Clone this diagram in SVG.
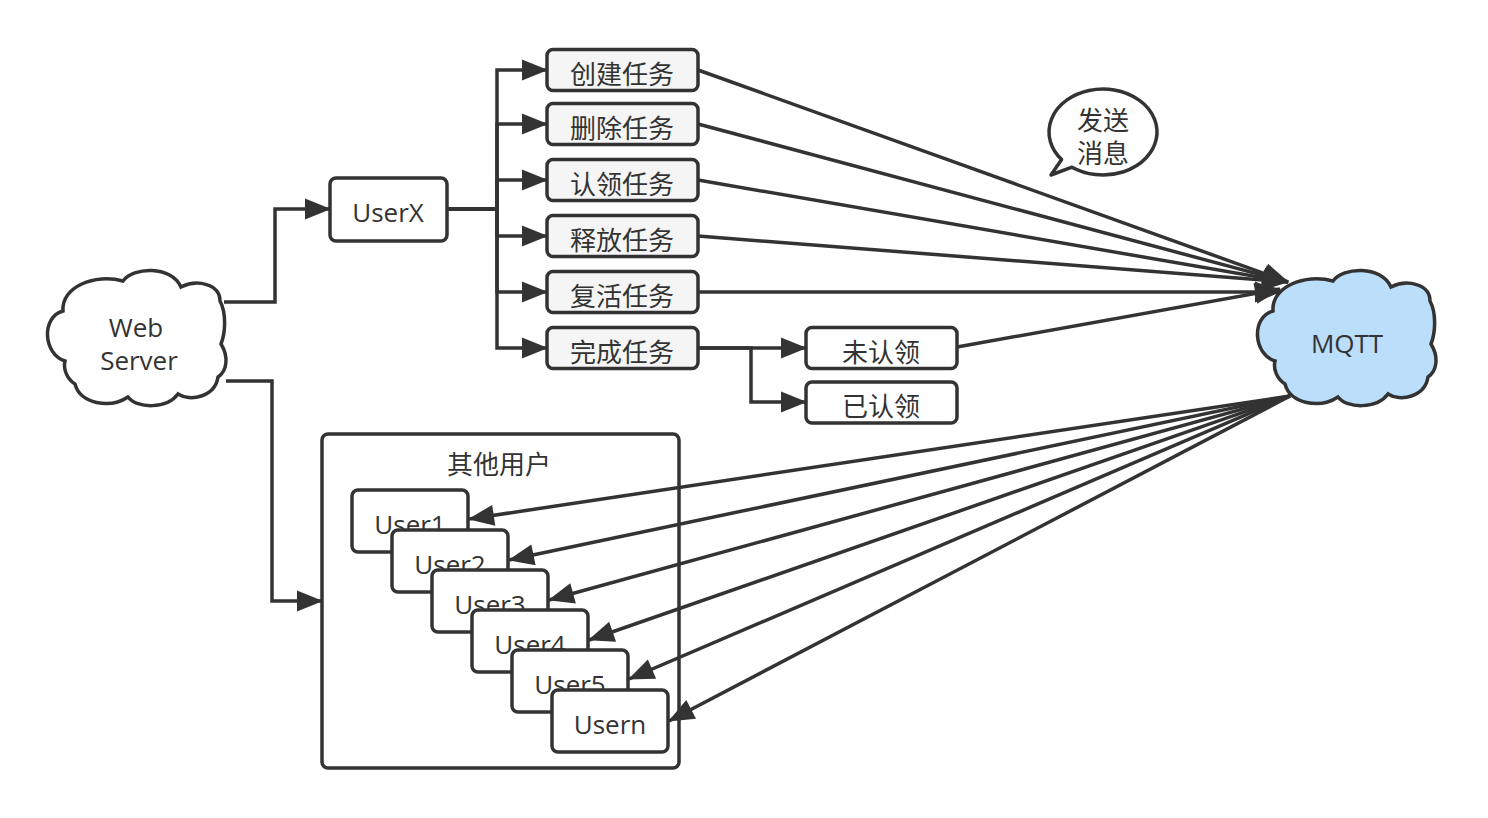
<svg xmlns="http://www.w3.org/2000/svg" width="1488" height="818" viewBox="0 0 1488 818">
<style>
  .box{fill:#ffffff;stroke:#333333;stroke-width:3.5}
  .task{fill:#f5f5f5;stroke:#333333;stroke-width:3.5}
  .cloud{stroke:#333333;stroke-width:3.5}
  .t{font-family:"Open Sans","Noto Sans CJK SC",sans-serif;font-size:26px;fill:#333333;text-anchor:middle}
  .edge{fill:none;stroke:#333333;stroke-width:3.5}
  .arr{marker-end:url(#ah)}
</style>
<defs>
  <marker id="ah" markerUnits="userSpaceOnUse" markerWidth="26" markerHeight="21" refX="25" refY="10.5" orient="auto" overflow="visible">
    <path d="M0,0 L26,10.5 L0,21 Z" fill="#333333"/>
  </marker>
  <path id="cloudShape" d="M18,42 C16,18 50,4 78,12 C88,-2 126,-4 136,18 C152,10 175,15 175,32 C182,45 180,65 176,75 C184,88 182,102 173,108 C170,128 145,133 133,125 C122,140 92,140 83,128 C65,140 35,135 30,115 C22,110 18,100 20,92 C-2,85 -4,48 18,42 Z"/>
</defs>
<rect width="1488" height="818" fill="#ffffff"/>

<g id="webserver">
  <use href="#cloudShape" transform="translate(45,269)" class="cloud" fill="#ffffff"/>
  <text class="t" x="136" y="337">Web</text>
  <text class="t" x="139" y="370">Server</text>
</g>

<g id="mqtt">
  <use href="#cloudShape" transform="translate(1255,269)" class="cloud" fill="#bbdefb"/>
  <text class="t" x="1347" y="353">MQTT</text>
</g>

<g id="userx">
  <rect class="box" x="330" y="178" width="117" height="63" rx="6"/>
  <text class="t" x="388" y="222">UserX</text>
</g>

<g id="task-create">
  <rect class="task" x="547" y="49.5" width="151" height="41" rx="6"/>
  <text class="t" x="622" y="84">创建任务</text>
</g>
<g id="task-delete">
  <rect class="task" x="547" y="103.5" width="151" height="41" rx="6"/>
  <text class="t" x="622" y="138">删除任务</text>
</g>
<g id="task-claim">
  <rect class="task" x="547" y="159.5" width="151" height="41" rx="6"/>
  <text class="t" x="622" y="194">认领任务</text>
</g>
<g id="task-release">
  <rect class="task" x="547" y="215.5" width="151" height="41" rx="6"/>
  <text class="t" x="622" y="250">释放任务</text>
</g>
<g id="task-revive">
  <rect class="task" x="547" y="271.5" width="151" height="41" rx="6"/>
  <text class="t" x="622" y="306">复活任务</text>
</g>
<g id="task-finish">
  <rect class="task" x="547" y="327.5" width="151" height="41" rx="6"/>
  <text class="t" x="622" y="362">完成任务</text>
</g>

<g id="unclaimed">
  <rect class="box" x="806" y="327.5" width="151" height="41" rx="6"/>
  <text class="t" x="881" y="362">未认领</text>
</g>
<g id="claimed">
  <rect class="box" x="806" y="382" width="151" height="41" rx="6"/>
  <text class="t" x="881" y="416">已认领</text>
</g>

<g id="bubble">
  <path d="M1072,167.2 A54 43 0 1 0 1061.6,159.6 L1051,175 Z" fill="#ffffff" stroke="#333333" stroke-width="3.5" stroke-linejoin="round"/>
  <text class="t" x="1103" y="130">发送</text>
  <text class="t" x="1103" y="163">消息</text>
</g>

<g id="other-users">
  <rect class="box" x="322" y="434" width="357" height="334" rx="6"/>
  <text class="t" x="499" y="474">其他用户</text>
</g>
<g id="user1">
  <rect class="box" x="352" y="490" width="116" height="62" rx="6"/>
  <text class="t" x="410" y="534">User1</text>
</g>
<g id="user2">
  <rect class="box" x="392" y="530" width="116" height="62" rx="6"/>
  <text class="t" x="450" y="574">User2</text>
</g>
<g id="user3">
  <rect class="box" x="432" y="570" width="116" height="62" rx="6"/>
  <text class="t" x="490" y="614">User3</text>
</g>
<g id="user4">
  <rect class="box" x="472" y="610" width="116" height="62" rx="6"/>
  <text class="t" x="530" y="654">User4</text>
</g>
<g id="user5">
  <rect class="box" x="512" y="650" width="116" height="62" rx="6"/>
  <text class="t" x="570" y="694">User5</text>
</g>
<g id="usern">
  <rect class="box" x="552" y="690" width="116" height="62" rx="6"/>
  <text class="t" x="610" y="734">Usern</text>
</g>

<g id="connectors">
  <path class="edge arr" d="M224,302 H275 V209 H330"/>
  <path class="edge arr" d="M226,381 H272 V601 H322"/>

  <path class="edge arr" d="M447,209 H497 V70 H547"/>
  <path class="edge arr" d="M447,209 H497 V124 H547"/>
  <path class="edge arr" d="M447,209 H497 V180 H547"/>
  <path class="edge arr" d="M447,209 H497 V236 H547"/>
  <path class="edge arr" d="M447,209 H497 V292 H547"/>
  <path class="edge arr" d="M447,209 H497 V348 H547"/>

  <path class="edge arr" d="M698,348 H751 H806"/>
  <path class="edge arr" d="M698,348 H751 V402 H806"/>

  <path class="edge arr" d="M698,70 L1288,282"/>
  <path class="edge arr" d="M698,124 L1288,282"/>
  <path class="edge arr" d="M698,180 L1288,282"/>
  <path class="edge arr" d="M698,236 L1288,282"/>
  <path class="edge arr" d="M698,292 L1280,292"/>
  <path class="edge arr" d="M957,347 L1280,289"/>

  <path class="edge arr" d="M1290,396 L469,519"/>
  <path class="edge arr" d="M1290,396 L509,560"/>
  <path class="edge arr" d="M1290,396 L549,600"/>
  <path class="edge arr" d="M1290,396 L589,640"/>
  <path class="edge arr" d="M1290,396 L629,679"/>
  <path class="edge arr" d="M1290,396 L669,721"/>
</g>
</svg>
